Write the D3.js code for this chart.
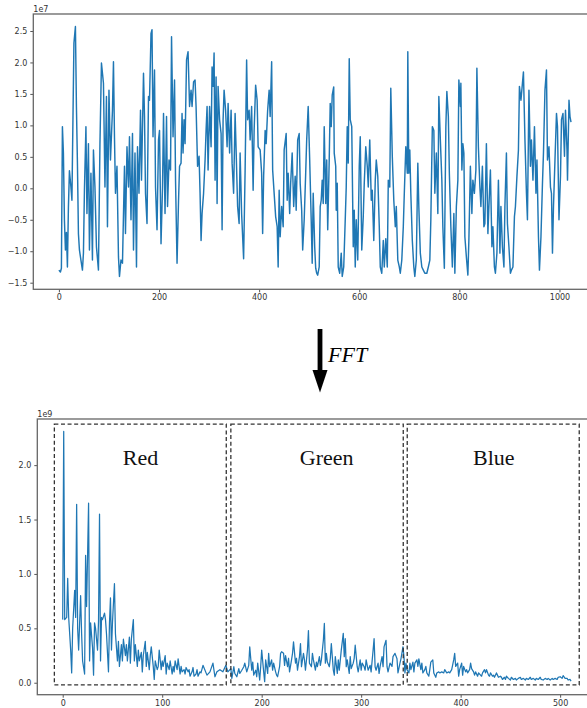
<!DOCTYPE html>
<html><head><meta charset="utf-8">
<script src="https://cdn.jsdelivr.net/npm/d3@7"></script>
<style>body{margin:0;background:#fff}svg{display:block}</style>
</head><body><svg id="c" width="587" height="708"></svg>
<script>
// ---- Top: time-domain signal (units of 1e7) ----
const sigIndex = [0,3,5,7,9,11,13,15,17,19,21,24,26,30,33,35,37,39,41,44,47,49,51,54,56,59,61,64,67,69,72,75,79,82,85,89,92,95,97,100,103,107,109,111,113,116,119,121,124,127,131,133,136,139,141,144,147,149,152,155,157,160,163,165,169,171,173,176,179,181,184,186,188,191,193,196,199,201,204,207,209,212,215,217,220,223,225,228,231,233,236,239,241,244,246,248,250,
252,255,258,261,264,266,269,272,274,277,280,282,284,286,289,292,294,296,298,301,304,306,308,310,312,314,316,318,321,324,326,328,330,333,336,338,341,344,346,349,352,354,357,360,362,365,369,372,375,377,380,382,385,388,390,393,396,398,402,405,407,409,412,414,417,420,422,425,427,430,433,436,438,440,442,445,448,450,454,456,458,461,463,466,469,472,474,477,480,482,485,487,490,493,495,498,501,504,506,508,511,513,515,517,
520,522,524,526,528,530,533,535,537,540,542,544,546,549,550,553,554,556,558,561,564,566,569,572,574,576,578,580,582,585,588,590,592,594,597,600,602,605,608,610,613,616,618,621,624,626,629,632,634,637,640,642,645,648,650,653,656,658,661,663,666,669,672,674,677,680,682,685,688,690,693,696,697,699,701,703,706,709,711,714,717,719,722,725,728,731,735,738,741,743,746,749,751,754,757,759,762,765,767,770,773,775,
778,780,783,786,789,791,794,797,799,802,803,805,807,809,811,814,817,819,822,825,827,830,833,835,838,841,843,846,849,851,854,857,859,862,865,867,870,872,875,878,881,883,886,889,891,894,896,899,902,904,907,910,912,915,918,920,923,926,928,931,934,936,939,942,944,947,950,953,955,958,960,963,966,968,971,974,976,979,982,984,986,988,991,994,996,999,1002,1004,1007,1010,1012,1015,1016,1019,1021,1023];
const sigValue = [-1.30,-1.33,-1.27,0.98,0.56,-0.50,-0.98,-0.70,-1.25,-0.30,0.28,0.02,-0.19,2.31,2.57,1.30,0.40,-0.72,-0.98,-1.14,-1.30,-1.03,-0.03,0.98,-0.40,0.71,-0.98,0.24,-1.14,0.61,0.02,-0.93,-1.30,0.71,1.99,1.67,0.02,1.46,-0.61,1.56,0.45,1.24,2.01,0.82,-0.08,0.35,-1.09,-1.40,-1.14,-1.19,0.35,-0.72,0.66,0.02,0.82,-0.50,0.87,-0.98,0.56,-1.25,0.66,-0.08,1.24,0.13,1.83,1.14,-0.08,-0.56,1.46,1.40,2.46,2.52,0.82,1.88,0.02,-0.66,0.77,0.92,-0.88,0.02,1.19,-0.40,1.14,-0.29,0.45,0.29,2.41,0.82,1.72,0.13,-1.19,-0.19,0.35,0.40,1.19,0.56,1.09,
0.71,2.04,2.17,1.30,1.56,1.30,1.69,1.72,1.30,0.35,0.51,-0.08,-0.83,-0.40,-0.08,0.45,0.92,1.30,0.29,1.30,0.66,1.93,1.62,2.15,0.13,1.77,-0.24,1.62,1.09,0.87,-0.66,1.09,1.56,1.24,0.66,1.35,0.56,1.24,0.40,-0.08,1.19,0.61,-0.29,-0.56,0.56,-0.40,-1.12,0.29,2.04,1.09,1.24,0.77,1.30,-0.03,0.92,1.64,1.40,0.66,0.61,0.24,-0.72,0.19,0.92,0.71,1.24,1.56,1.14,2.01,0.29,-0.08,-0.45,-0.61,-1.25,-0.03,-0.77,-0.29,-0.61,0.61,0.87,-0.19,0.24,-0.40,0.08,0.56,-0.29,0.19,-0.35,0.77,0.87,0.08,-0.35,-0.98,-0.50,0.24,0.77,1.30,0.45,-0.50,-1.19,-0.08,-0.93,-1.27,-1.35,-1.38,
-1.25,-0.29,-0.19,0.13,-0.24,0.98,-0.24,0.45,-0.66,0.45,1.35,0.98,1.48,1.61,0.56,0.35,-0.35,0.08,-1.25,-1.35,-1.03,-1.40,-1.25,-0.50,0.02,0.98,0.40,2.06,1.09,0.98,-0.93,-0.35,-1.25,-0.50,-1.14,0.35,0.82,-0.98,-0.45,0.08,0.66,0.35,0.02,0.77,-0.19,-0.03,-0.83,0.13,0.45,0.19,-0.61,-1.25,-1.35,-0.83,-1.25,-0.80,-1.25,0.13,0.02,1.59,0.51,-0.19,-0.61,-0.29,-1.14,-1.25,-1.35,-1.14,-0.61,-0.08,0.66,0.24,2.17,0.24,0.61,-0.08,-0.83,-1.25,-1.40,-1.14,0.40,-0.29,-1.03,-1.25,-1.30,-1.35,-1.35,-1.25,-1.14,-0.50,0.98,0.92,-0.08,0.56,-0.40,1.46,0.77,0.13,-0.61,-1.27,0.98,1.54,
1.14,0.24,-0.61,-1.25,-0.40,-1.35,-0.29,0.13,1.72,1.30,1.67,0.29,0.71,0.56,-0.77,-1.09,-1.38,-0.82,0.35,-0.40,0.13,-0.08,0.29,1.91,0.66,0.02,-0.29,0.35,-0.61,-0.56,0.71,-0.72,-0.29,0.29,-0.93,-0.61,-1.25,-1.35,-1.03,0.13,-1.03,-0.29,-0.93,-1.25,-0.29,0.56,-0.56,-0.93,-1.35,-1.30,-1.25,-0.45,-0.29,0.19,0.61,1.62,1.40,1.67,1.85,0.77,-0.08,-0.50,1.56,0.35,0.77,0.13,0.98,-0.08,0.45,-0.77,-1.30,-0.77,0.08,0.56,1.56,1.88,0.45,0.66,0.02,-0.08,-1.03,-0.29,0.45,1.19,0.98,-0.50,0.19,1.09,1.19,0.51,1.24,0.61,0.13,1.40,1.14,1.05];
const sigXTicks = [0,200,400,600,800,1000];
const sigYTicks = [-1.5,-1.0,-0.5,0.0,0.5,1.0,1.5,2.0,2.5];

// ---- Bottom: FFT magnitude (units of 1e9) ----
const fftIndex = [0,1,2,4,5,6,8,9,10,12,13,14,15,16,18,19,20,22,23,24,26,27,28,30,31,32,33,35,36,37,38,39,40,42,43,44,46,47,48,49,50,52,53,55,56,57,59,60,61,63,64,65,67,68,69,71,72,73,75,76,77,79,80,81,83,84,85,87,88,89,91,92,93,95,96,97,99,100,101,103,104,105,107,108,110,111,112,113,115,116,118,119,120,122,123,124,126,127,128,130,131,132,134,135,136,138,139,
141,145,148,151,153,155,158,161,164,166,169,170,172,173,175,177,178,180,182,183,185,187,188,190,191,192,194,195,196,198,199,200,202,203,204,206,207,208,210,211,212,214,215,216,218,219,220,222,223,224,226,227,228,230,231,232,234,235,236,238,239,240,242,243,244,246,247,248,250,251,252,254,255,256,258,259,260,262,263,264,265,266,268,269,270,272,273,274,276,277,278,280,281,282,283,284,285,286,288,289,290,292,293,294,296,297,299,300,301,303,304,305,307,309,310,312,313,314,315,317,318,319,321,322,323,325,326,327,329,
331,332,334,336,337,339,340,342,343,344,345,346,348,349,350,352,353,354,356,357,358,360,361,362,364,365,366,368,369,370,372,373,375,376,378,379,381,383,384,386,388,389,391,393,394,395,397,398,399,401,402,403,405,406,407,409,410,411,413,414,415,417,418,420,421,422,424,425,426,428,429,430,432,433,434,436,437,438,440,441,442,444,445,446,448,450,451,453,455,456,458,460,461,463,465,466,468,470,471,473,475,476,478,480,481,483,485,487,488,490,492,493,495,497,498,500,502,503,505,507,508,510,511];
const fftValue = [0.58,2.31,0.58,0.60,0.96,0.60,0.30,0.09,0.50,0.85,0.60,1.64,0.50,0.30,0.80,0.45,0.20,0.08,1.17,0.70,1.65,0.20,0.55,0.32,0.07,0.55,0.50,0.30,0.57,1.55,0.20,0.60,0.58,0.64,0.58,0.45,0.10,0.55,0.78,0.30,0.55,0.91,0.45,0.20,0.38,0.15,0.35,0.20,0.40,0.25,0.35,0.20,0.42,0.18,0.40,0.58,0.20,0.35,0.15,0.30,0.20,0.28,0.10,0.25,0.38,0.15,0.28,0.12,0.25,0.33,0.15,0.03,0.20,0.12,0.15,0.30,0.12,0.20,0.15,0.25,0.08,0.18,0.12,0.20,0.08,0.15,0.10,0.20,0.12,0.22,0.08,0.15,0.10,0.12,0.08,0.14,0.10,0.12,0.06,0.10,0.14,0.06,0.08,0.12,0.06,0.10,0.09,
0.16,0.07,0.10,0.18,0.055,0.10,0.12,0.10,0.16,0.10,0.13,0.04,0.147,0.085,0.055,0.13,0.085,0.115,0.147,0.18,0.10,0.16,0.33,0.115,0.19,0.07,0.115,0.055,0.18,0.025,0.147,0.30,0.10,0.01,0.21,0.085,0.27,0.147,0.21,0.115,0.18,0.10,0.07,0.055,0.147,0.27,0.285,0.27,0.16,0.25,0.147,0.225,0.10,0.21,0.27,0.376,0.18,0.225,0.115,0.24,0.36,0.147,0.27,0.21,0.115,0.30,0.48,0.18,0.147,0.27,0.21,0.115,0.19,0.147,0.24,0.16,0.21,0.39,0.545,0.18,0.27,0.19,0.147,0.225,0.36,0.115,0.07,0.24,0.085,0.21,0.115,0.30,0.376,0.454,0.24,0.405,0.147,0.21,0.085,0.24,0.13,0.18,0.225,0.345,0.147,0.10,0.21,0.115,0.18,0.147,0.115,0.21,0.115,0.16,0.10,0.30,0.405,0.147,0.115,0.18,0.085,0.147,0.24,0.147,0.33,0.39,0.147,0.10,0.18,
0.15,0.24,0.27,0.22,0.09,0.18,0.22,0.33,0.24,0.09,0.18,0.12,0.09,0.18,0.12,0.19,0.10,0.18,0.21,0.15,0.22,0.12,0.18,0.09,0.12,0.15,0.09,0.06,0.12,0.19,0.21,0.09,0.05,0.09,0.10,0.09,0.10,0.09,0.12,0.09,0.10,0.09,0.12,0.21,0.27,0.15,0.18,0.06,0.12,0.18,0.07,0.15,0.10,0.12,0.09,0.12,0.18,0.13,0.10,0.07,0.10,0.06,0.09,0.07,0.06,0.09,0.12,0.09,0.12,0.07,0.06,0.09,0.06,0.07,0.05,0.09,0.07,0.05,0.06,0.05,0.03,0.05,0.03,0.06,0.04,0.025,0.05,0.03,0.04,0.025,0.04,0.05,0.03,0.04,0.025,0.04,0.03,0.05,0.03,0.04,0.025,0.04,0.03,0.05,0.03,0.025,0.04,0.03,0.04,0.025,0.04,0.03,0.04,0.03,0.05,0.055,0.04,0.065,0.04,0.04,0.025,0.03,0.015];
const fftXTicks = [0,100,200,300,400,500];
const fftYTicks = [0.0,0.5,1.0,1.5,2.0];

// ---- Bands ----
const bandNames = ["Red","Green","Blue"];
const bandStart = [-8.4,169,346.3];
const bandEnd = [164.4,342.3,519.2];
const bandLabelX = [78.2,265.3,433.3];
const bandBottom = -0.02, bandTop = 2.377, bandLabelY = 2.0;

const svg = d3.select("#c");
const tickFont = "DejaVu Sans, sans-serif";
const blue = "#1f77b4";

function panel(cfg){
  const g = svg.append("g");
  const [l,r] = cfg.x.range(); const [b,t] = cfg.y.range();
  const ax = g.append("g").attr("transform",`translate(0,${b})`)
    .call(d3.axisBottom(cfg.x).tickValues(cfg.xt).tickFormat(d3.format("d")).tickSize(3).tickPadding(2.5));
  const ay = g.append("g").attr("transform",`translate(${l},0)`)
    .call(d3.axisLeft(cfg.y).tickValues(cfg.yt).tickFormat(d3.format(".1f")).tickSize(3).tickPadding(3));
  [ax,ay].forEach(a=>{
    a.select(".domain").remove();
    a.selectAll("line").attr("stroke","#555");
    a.selectAll("text").attr("fill","#333").style("font-family",tickFont).style("font-size","8px");
  });
  g.append("path").datum(cfg.ix.map((d,i)=>[d,cfg.v[i]]))
    .attr("fill","none").attr("stroke",blue).attr("stroke-width",cfg.lw).attr("stroke-linejoin","round")
    .attr("d",d3.line().x(d=>cfg.x(d[0])).y(d=>cfg.y(d[1])));
  g.append("rect").attr("x",l).attr("y",t).attr("width",r-l).attr("height",b-t)
    .attr("fill","none").attr("stroke","#666").attr("stroke-width",1.3);
  g.append("text").attr("x",l).attr("y",t-2).text(cfg.exp)
    .attr("fill","#333").style("font-family",tickFont).style("font-size","8px");
  return g;
}

const x1 = d3.scaleLinear().domain([-51.15,1074.15]).range([33.3,596.6]);
const y1 = d3.scaleLinear().domain([-1.605,2.77]).range([289.3,14]);
panel({x:x1,y:y1,xt:sigXTicks,yt:sigYTicks,ix:sigIndex,v:sigValue,exp:"1e7",lw:1.45});

const x2 = d3.scaleLinear().domain([-25.55,536.55]).range([37.3,596.5]);
const y2 = d3.scaleLinear().domain([-0.110,2.424]).range([694.7,419]);
const g2 = panel({x:x2,y:y2,xt:fftXTicks,yt:fftYTicks,ix:fftIndex,v:fftValue,exp:"1e9",lw:1.25});

bandNames.forEach((n,i)=>{
  g2.append("rect").attr("x",x2(bandStart[i])).attr("y",y2(bandTop))
    .attr("width",x2(bandEnd[i])-x2(bandStart[i])).attr("height",y2(bandBottom)-y2(bandTop))
    .attr("fill","none").attr("stroke","#333").attr("stroke-width",1.3).attr("stroke-dasharray","4,2.6");
  g2.append("text").attr("x",x2(bandLabelX[i])).attr("y",y2(bandLabelY)).attr("text-anchor","middle")
    .text(n).style("font-family","Liberation Serif, Times New Roman, serif").style("font-size","22px").attr("fill","#111");
});

// ---- FFT arrow ----
const ar = svg.append("g");
ar.append("rect").attr("x",317.6).attr("y",329).attr("width",4.8).attr("height",42).attr("fill","#000");
ar.append("path").attr("d","M312.5,370 L327.5,370 L320,392.5 Z").attr("fill","#000");
ar.append("text").attr("x",328).attr("y",361.7).text("FFT")
  .style("font-family","Liberation Serif, Times New Roman, serif").style("font-style","italic").style("font-size","22px").attr("fill","#000");
</script></body></html>
